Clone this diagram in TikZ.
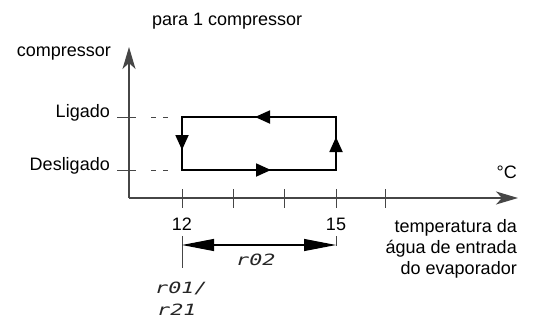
\documentclass[tikz,border=0pt]{standalone}
\usepackage{fontspec}
\usepackage{graphicx}
\setmainfont{Liberation Sans}
\newfontfamily\segfont{DejaVu Sans Mono}
\newcommand{\segtext}[1]{\scalebox{1.4}[1]{\segfont\itshape #1}}
\usetikzlibrary{arrows.meta,decorations.markings}
\definecolor{axisgray}{RGB}{70,70,70}
\begin{document}
\begin{tikzpicture}[x=1pt,y=-1pt,
  lbl/.style={font=\fontsize{18}{21}\selectfont, inner sep=0pt},
  seg/.style={font=\fontsize{15.5}{18}\selectfont, inner sep=0pt, text=black!85},
  axisline/.style={draw=axisgray, line width=1.1pt},
  thin/.style={draw=axisgray, line width=0.9pt},
  axisarrow/.style={-{Stealth[length=22pt,width=13pt,inset=6pt]}},
  loopline/.style={draw=black, line width=1.8pt},
  dimarrow/.style={{Triangle[length=32pt,width=12pt]}-{Triangle[length=32pt,width=12pt]}, line width=1.1pt}
]
\useasboundingbox (0,0) rectangle (533,322);

% coordinates
\coordinate (O) at (129,198);
\coordinate (ytop) at (129,47);
\coordinate (xend) at (518,198);
\coordinate (A) at (182,170);
\coordinate (B) at (336,170);
\coordinate (C) at (336,117);
\coordinate (D) at (182,117);

% axes
\draw[axisline, axisarrow] (O) -- (ytop);
\draw[axisline, axisarrow] (O) -- (xend);

% y ticks
\coordinate (lt1) at (117,117); \coordinate (lt2) at (136,117);
\coordinate (dt1) at (117,170); \coordinate (dt2) at (136,170);
\draw[thin] (lt1) -- (lt2);
\draw[thin] (dt1) -- (dt2);
\coordinate (ld1) at (151,117); \coordinate (ld2) at (168,117);
\coordinate (dd1) at (151,170); \coordinate (dd2) at (168,170);
\draw[thin, dash pattern=on 5pt off 7pt] (ld1) -- (ld2);
\draw[thin, dash pattern=on 5pt off 7pt] (dd1) -- (dd2);

% x ticks
\foreach \xx/\nm in {182/t1,233/t2,284/t3,336/t4,385/t5}{
  \coordinate (\nm a) at (\xx,189);
  \coordinate (\nm b) at (\xx,208);
  \draw[thin] (\nm a) -- (\nm b);
}

% hysteresis loop
\draw[loopline, postaction={decorate}, decoration={markings,
   mark=at position 89pt with {\arrow{Triangle[length=15pt,width=13pt]}},
   mark=at position 187pt with {\arrow{Triangle[length=15pt,width=13pt]}},
   mark=at position 288pt with {\arrow{Triangle[length=15pt,width=13pt]}},
   mark=at position 394pt with {\arrow{Triangle[length=15pt,width=13pt]}}}]
   (A) -- (B) -- (C) -- (D) -- cycle;

% labels
\node[lbl, anchor=base west] (title) at (152,25) {para 1 compressor};
\node[lbl, anchor=base east] (ylab) at (111,56) {compressor};
\node[lbl, anchor=base east] (lig) at (110,117) {Ligado};
\node[lbl, anchor=base east] (des) at (110,170) {Desligado};
\node[lbl, anchor=base east] (degc) at (517,178) {°C};
\node[lbl, anchor=base] (n12) at (182,230) {12};
\node[lbl, anchor=base] (n15) at (336,230) {15};
\node[lbl, anchor=base east] (xl1) at (517,232) {temperatura da};
\node[lbl, anchor=base east] (xl2) at (517,253) {água de entrada};
\node[lbl, anchor=base east] (xl3) at (517,274) {do evaporador};

% dimension
\coordinate (e1a) at (182,236); \coordinate (e1b) at (182,268);
\coordinate (e2a) at (336,236); \coordinate (e2b) at (336,246);
\draw[thin] (e1a) -- (e1b);
\draw[thin] (e2a) -- (e2b);
\coordinate (d1) at (182,245); \coordinate (d2) at (336,245);
\draw[dimarrow] (d1) -- (d2);

\node[seg, anchor=base west] (r02) at (236,265) {\segtext{r02}};
\node[seg, anchor=base west] (r01) at (155,293) {\segtext{r01/}};
\node[seg, anchor=base west] (r21) at (157,315) {\segtext{r21}};
\end{tikzpicture}
\end{document}
